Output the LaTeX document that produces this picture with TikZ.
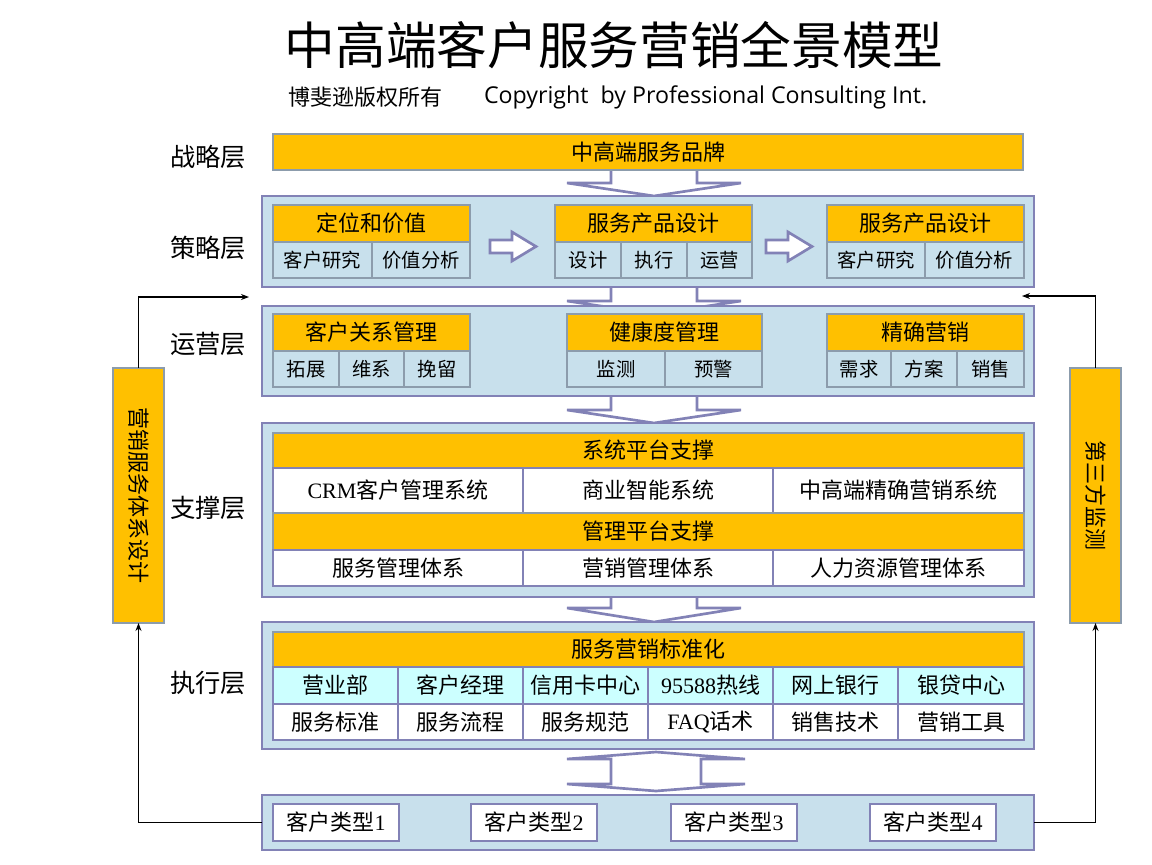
\documentclass[tikz,border=0pt]{standalone}
\usepackage{fontspec}
\usetikzlibrary{arrows.meta}
\newfontfamily\cjk{Noto Sans CJK SC}
\newfontfamily\osans{Open Sans}
\newfontfamily\lser{Liberation Serif}
\newcommand\lat[1]{{\lser #1}}
\definecolor{org}{HTML}{FFC000}
\definecolor{lblue}{HTML}{C8E0EC}
\definecolor{graybd}{HTML}{8C9CAC}
\definecolor{purp}{HTML}{8282B6}
\definecolor{cyanc}{HTML}{CCFFFF}
% \bx[style]{name}{x1}{y1}{x2}{y2}{text}
\newcommand\bx[7][]{\node[#1, minimum width={(#5-#3)*0.75pt}, minimum height={(#6-#4)*0.75pt}] (#2) at ({(#3+#5)/2},{(#4+#6)/2}) {#7};}
\tikzset{
 every node/.style={inner sep=0pt, outer sep=0pt},
 lay/.style={fill=lblue, draw=purp, line width=2.2pt},
 hdr/.style={fill=org, draw=graybd, line width=2pt, font=\cjk\fontsize{16.5}{18}\selectfont},
 subc/.style={fill=lblue, draw=graybd, line width=2pt, font=\cjk\fontsize{14.5}{16}\selectfont},
 wcell/.style={fill=white, draw=purp, line width=1.8pt, font=\cjk\fontsize{16.5}{18}\selectfont},
 ccell/.style={wcell, fill=cyanc},
 cust/.style={fill=white, draw=purp, line width=2.2pt, font=\cjk\fontsize{16.5}{18}\selectfont},
 vbox/.style={fill=org, draw=graybd, line width=2.2pt},
 vtxt/.style={rotate=-90, font=\cjk\fontsize{16.5}{18}\selectfont},
 lbl/.style={font=\cjk\fontsize{19}{21}\selectfont},
 blk/.style={fill=white, draw=purp, line width=2pt, line join=miter},
 conn/.style={draw=black, line width=0.8pt, -{Stealth[length=6pt,width=4.5pt]}},
}
\begin{document}
\begin{tikzpicture}[x=0.75pt,y=-0.75pt]
\useasboundingbox (0,0) rectangle (1152,864);
% titles
\node[font=\cjk\fontsize{38}{40}\selectfont] (title) at (614,45) {中高端客户服务营销全景模型};
\node[font=\cjk\fontsize{16.5}{18}\selectfont] (subA) at (365,97) {博斐逊版权所有};
\node[font=\osans\fontsize{17.4}{20}\selectfont, anchor=west] (subB) at (484,97) {Copyright\ \ by Professional Consulting Int.};
% layer labels
\node[lbl] (L1) at (208,157) {战略层};
\node[lbl] (L2) at (208,248) {策略层};
\node[lbl] (L3) at (208,344) {运营层};
\node[lbl] (L4) at (208,508) {支撑层};
\node[lbl] (L5) at (208,683) {执行层};
% block arrows between layers
\foreach \t/\b/\p in {160/183/196, 280/301/314, 390/410/423, 590/608/622}
  \draw[blk] (611,\t)--(611,\b)--(567,\b)--(654,\p)--(741,\b)--(697,\b)--(697,\t)--cycle;
\draw[blk] (611,759)--(567,759)--(656,752)--(745,759)--(701,759)--(701,784)--(745,784)--(656,791)--(567,784)--(611,784)--cycle;
% strategy bar
\bx[hdr]{brand}{273}{134}{1023}{170}{中高端服务品牌}
% box 2
\bx[lay]{B2}{262}{196}{1034}{287}{}
\bx[hdr]{g21}{273}{205}{470}{242}{定位和价值}
\bx[subc]{g21a}{273}{242}{372}{278}{客户研究}
\bx[subc]{g21b}{372}{242}{470}{278}{价值分析}
\bx[hdr]{g22}{555}{205}{752}{242}{服务产品设计}
\bx[subc]{g22a}{555}{242}{621}{278}{设计}
\bx[subc]{g22b}{621}{242}{687}{278}{执行}
\bx[subc]{g22c}{687}{242}{752}{278}{运营}
\bx[hdr]{g23}{827}{205}{1024}{242}{服务产品设计}
\bx[subc]{g23a}{827}{242}{925}{278}{客户研究}
\bx[subc]{g23b}{925}{242}{1024}{278}{价值分析}
\draw[blk] (490,240)--(512,240)--(512,232)--(536,246.5)--(512,261)--(512,253)--(490,253)--cycle;
\draw[blk] (766,240)--(788,240)--(788,232)--(812,246.5)--(788,261)--(788,253)--(766,253)--cycle;
% box 3
\bx[lay]{B3}{262}{306}{1034}{396}{}
\bx[hdr]{g31}{273}{314}{470}{351}{客户关系管理}
\bx[subc]{g31a}{273}{351}{339}{387}{拓展}
\bx[subc]{g31b}{339}{351}{404}{387}{维系}
\bx[subc]{g31c}{404}{351}{470}{387}{挽留}
\bx[hdr]{g32}{567}{314}{762}{351}{健康度管理}
\bx[subc]{g32a}{567}{351}{665}{387}{监测}
\bx[subc]{g32b}{665}{351}{762}{387}{预警}
\bx[hdr]{g33}{827}{314}{1024}{351}{精确营销}
\bx[subc]{g33a}{827}{351}{891}{387}{需求}
\bx[subc]{g33b}{891}{351}{957}{387}{方案}
\bx[subc]{g33c}{957}{351}{1024}{387}{销售}
% box 4
\bx[lay]{B4}{262}{423}{1034}{597}{}
\bx[hdr]{s1}{273}{433}{1024}{468}{系统平台支撑}
\bx[wcell]{s1a}{273}{468}{523}{513}{\lat{CRM}客户管理系统}
\bx[wcell]{s1b}{523}{468}{773}{513}{商业智能系统}
\bx[wcell]{s1c}{773}{468}{1024}{513}{中高端精确营销系统}
\bx[hdr]{s2}{273}{513}{1024}{550}{管理平台支撑}
\bx[wcell]{s2a}{273}{550}{523}{586}{服务管理体系}
\bx[wcell]{s2b}{523}{550}{773}{586}{营销管理体系}
\bx[wcell]{s2c}{773}{550}{1024}{586}{人力资源管理体系}
% box 5
\bx[lay]{B5}{262}{622}{1034}{749}{}
\bx[hdr]{e0}{273}{632}{1024}{667}{服务营销标准化}
\bx[ccell]{e1}{273}{667}{398}{704}{营业部}
\bx[ccell]{e2}{398}{667}{523}{704}{客户经理}
\bx[ccell]{e3}{523}{667}{648}{704}{信用卡中心}
\bx[ccell]{e4}{648}{667}{773}{704}{\lat{95588}热线}
\bx[ccell]{e5}{773}{667}{898}{704}{网上银行}
\bx[ccell]{e6}{898}{667}{1024}{704}{银贷中心}
\bx[wcell]{f1}{273}{704}{398}{740}{服务标准}
\bx[wcell]{f2}{398}{704}{523}{740}{服务流程}
\bx[wcell]{f3}{523}{704}{648}{740}{服务规范}
\bx[wcell]{f4}{648}{704}{773}{740}{\lat{FAQ}话术}
\bx[wcell]{f5}{773}{704}{898}{740}{销售技术}
\bx[wcell]{f6}{898}{704}{1024}{740}{营销工具}
% box 6
\bx[lay]{B6}{262}{795}{1034}{850}{}
\bx[cust]{c1}{273}{804}{399}{841}{客户类型\lat{1}}
\bx[cust]{c2}{471}{804}{597}{841}{客户类型\lat{2}}
\bx[cust]{c3}{671}{804}{797}{841}{客户类型\lat{3}}
\bx[cust]{c4}{870}{804}{996}{841}{客户类型\lat{4}}
% side boxes
\bx[vbox]{VL}{113}{368}{164}{623}{}
\node[vtxt] (VLt) at (VL.center) {营销服务体系设计};
\bx[vbox]{VR}{1070}{368}{1121}{623}{}
\node[vtxt] (VRt) at (VR.center) {第三方监测};
% connectors
\coordinate (ltip) at (249,297);
\coordinate (rtip) at (1022,296);
\draw[conn] (B6.west) -| (VL.south);
\draw[conn] (VL.north) |- (ltip);
\draw[conn] (B6.east) -| (VR.south);
\draw[conn] (VR.north) |- (rtip);
\end{tikzpicture}
\end{document}
